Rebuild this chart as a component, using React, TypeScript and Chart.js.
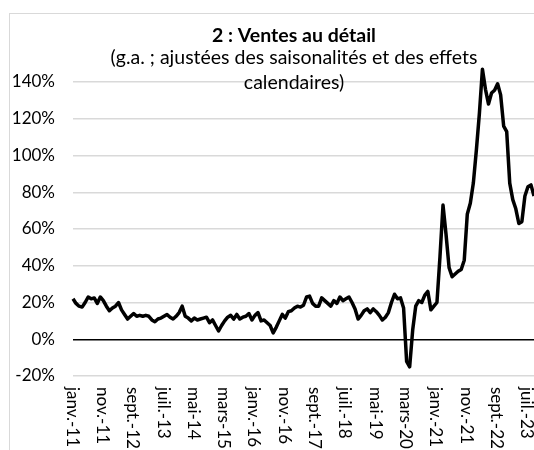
import React, { useEffect, useRef } from 'react';
import { Chart, registerables } from 'chart.js';

Chart.register(...registerables);

// ---- Data ----
const MONTHS_FR = ['janv.', 'févr.', 'mars', 'avr.', 'mai', 'juin', 'juil.', 'août', 'sept.', 'oct.', 'nov.', 'déc.'];
const START_YEAR = 2011;
const LABEL_EVERY = 10;

// Retail sales, y/y % (seasonally and calendar adjusted), janv.-11 .. sept.-23
const SALES_2011 = [22, 19.5, 18, 17.5, 20, 23, 22, 22.5, 19.5, 23, 21, 18];
const SALES_2012 = [15.5, 17, 18, 20, 16, 13.5, 11, 12.5, 14, 12.5, 13, 12.5];
const SALES_2013 = [13, 12.5, 10.5, 9.5, 11, 11.5, 12.5, 13.5, 12, 11, 12.5, 14.5];
const SALES_2014 = [18, 12.5, 11.5, 10, 11.5, 10.5, 11, 11.5, 12, 9, 10.5, 7.5];
const SALES_2015 = [4.5, 7.5, 10, 12, 13, 11, 13.5, 11, 12, 12.5, 14, 10.5];
const SALES_2016 = [13, 14.5, 10, 10.5, 9, 7.5, 3.5, 6.5, 10, 13.5, 11.5, 15];
const SALES_2017 = [15.5, 17, 18, 17.5, 18.5, 23, 23.5, 19.5, 18, 18, 22.5, 21];
const SALES_2018 = [19.5, 18, 21, 19.5, 23, 21, 22, 23, 20, 16.5, 11, 13];
const SALES_2019 = [15.5, 16.5, 14.5, 16.5, 15, 13, 10.5, 12, 14.5, 20, 24.5, 22];
const SALES_2020 = [22.5, 17, -12, -15, 5, 18, 21, 20, 24, 26, 16, 18];
const SALES_2021 = [20, 45, 73, 57, 39, 34, 35.5, 37, 38, 43, 68, 74];
const SALES_2022 = [85, 103, 123, 147, 136, 128, 134, 135.5, 139, 133, 116, 113];
const SALES_2023 = [85, 76, 71, 63, 64, 78, 83, 84, 78];

const SALES_YOY = [
  ...SALES_2011, ...SALES_2012, ...SALES_2013, ...SALES_2014, ...SALES_2015,
  ...SALES_2016, ...SALES_2017, ...SALES_2018, ...SALES_2019, ...SALES_2020,
  ...SALES_2021, ...SALES_2022, ...SALES_2023,
];

const CATEGORIES = SALES_YOY.map((_, i) => {
  const yy = String((START_YEAR + Math.floor(i / 12)) % 100).padStart(2, '0');
  return `${MONTHS_FR[i % 12]}-${yy}`;
});

const Y_MIN = -20;
const Y_MAX = 140;
const Y_STEP = 20;

const TITLE = '2 : Ventes au détail';
const SUBTITLE = ['(g.a. ; ajustées des saisonalités et des effets', 'calendaires)'];

const FONT = 'Lato, "Open Sans", "DejaVu Sans", sans-serif';

export default function App() {
  const ref = useRef<HTMLCanvasElement | null>(null);

  useEffect(() => {
    const canvas = ref.current;
    if (!canvas) return;

    const decor = {
      id: 'decor',
      beforeDraw(chart: any) {
        const ctx = chart.ctx;
        ctx.save();
        ctx.fillStyle = '#ffffff';
        ctx.fillRect(0, 0, chart.width, chart.height);
        ctx.strokeStyle = '#d9d9d9';
        ctx.lineWidth = 1;
        ctx.strokeRect(9.5, 13.5, chart.width + 20, chart.height + 20);
        ctx.restore();
      },
      afterDraw(chart: any) {
        const ctx = chart.ctx;
        ctx.save();
        ctx.fillStyle = '#000000';
        ctx.textAlign = 'center';
        ctx.textBaseline = 'alphabetic';
        const cx = 294;
        ctx.font = `bold 19.5px ${FONT}`;
        ctx.fillText(TITLE, cx, 42);
        ctx.font = `19.5px ${FONT}`;
        ctx.fillText(SUBTITLE[0], cx, 64);
        ctx.fillText(SUBTITLE[1], cx, 89);

        const xs = chart.scales.x;
        ctx.font = `17px ${FONT}`;
        ctx.textAlign = 'left';
        ctx.textBaseline = 'middle';
        CATEGORIES.forEach((lab, i) => {
          if (i % LABEL_EVERY !== 0) return;
          const x = xs.getPixelForValue(i);
          ctx.save();
          ctx.translate(x - 1, 387);
          ctx.rotate(Math.PI / 2);
          ctx.fillText(lab, 0, 0);
          ctx.restore();
        });
        ctx.restore();
      },
    };

    const chart = new Chart(canvas, {
      type: 'line',
      data: {
        labels: CATEGORIES,
        datasets: [
          {
            data: SALES_YOY,
            borderColor: '#000000',
            backgroundColor: '#000000',
            borderWidth: 3.5,
            pointRadius: 0,
            tension: 0,
            fill: false,
            clip: false as any,
            borderJoinStyle: 'round',
            borderCapStyle: 'butt',
          },
        ],
      },
      options: {
        animation: false,
        responsive: false,
        devicePixelRatio: 1,
        layout: { padding: { top: 82, right: 44, left: 0, bottom: 0 } },
        plugins: {
          legend: { display: false },
          tooltip: { enabled: false },
          title: { display: false },
        },
        scales: {
          x: {
            type: 'category',
            offset: false,
            grid: { display: false },
            border: { display: false },
            ticks: { display: false },
            afterFit: (s: any) => {
              s.height = 74;
            },
          },
          y: {
            min: Y_MIN,
            max: Y_MAX,
            ticks: {
              stepSize: Y_STEP,
              padding: 18,
              color: '#000000',
              font: { family: FONT, size: 17 },
              callback: (v: any) => `${v}%`,
            },
            grid: {
              drawTicks: false,
              color: (c: any) => (c.tick && c.tick.value === 0 ? '#000000' : '#d9d9d9'),
              lineWidth: 1.5,
            },
            border: { display: false },
            afterFit: (s: any) => {
              s.width = 73;
            },
          },
        },
      },
      plugins: [decor],
    } as any);

    return () => {
      chart.destroy();
    };
  }, []);

  return (
    <div style={{ position: 'fixed', left: 0, top: 0, width: 534, height: 450, overflow: 'hidden', background: '#fff' }}>
      <canvas ref={ref} width={578} height={450} style={{ display: 'block', width: 578, height: 450 }} />
    </div>
  );
}
